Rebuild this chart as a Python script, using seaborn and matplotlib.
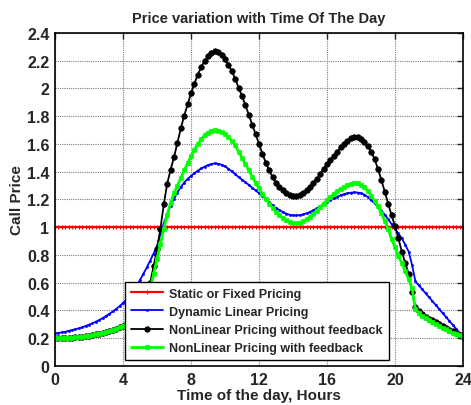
import numpy as np
import seaborn as sns
import matplotlib
matplotlib.use("Agg")
import matplotlib.pyplot as plt

# time axis: samples every 0.2 hours over the day
hours = np.linspace(0, 24, 121)

static_price = [1.0] * len(hours)

dynamic_linear = [
    0.235, 0.238, 0.242, 0.247, 0.253, 0.259, 0.265, 0.271, 0.279, 0.288,
    0.298, 0.308, 0.319, 0.331, 0.345, 0.360, 0.376, 0.393, 0.411, 0.431,
    0.454, 0.478, 0.505, 0.535, 0.575, 0.620, 0.665, 0.710, 0.760, 0.810,
    0.865, 0.950, 1.030, 1.095, 1.155, 1.205, 1.250, 1.290, 1.322, 1.348,
    1.370, 1.390, 1.408, 1.424, 1.437, 1.448, 1.456, 1.460, 1.458, 1.450,
    1.438, 1.422, 1.402, 1.382, 1.362, 1.343, 1.324, 1.305, 1.285, 1.265,
    1.245, 1.225, 1.203, 1.180, 1.158, 1.140, 1.124, 1.110, 1.098, 1.090,
    1.086, 1.085, 1.087, 1.092, 1.100, 1.110, 1.122, 1.136, 1.150, 1.165,
    1.180, 1.195, 1.208, 1.220, 1.230, 1.238, 1.245, 1.249, 1.251, 1.250,
    1.245, 1.235, 1.218, 1.195, 1.172, 1.147, 1.120, 1.090, 1.057, 1.022,
    0.990, 0.955, 0.920, 0.875, 0.825, 0.730, 0.610, 0.581, 0.553, 0.524,
    0.496, 0.467, 0.439, 0.410, 0.381, 0.353, 0.324, 0.296, 0.267, 0.239,
    0.210,
]

nonlinear_no_fb = [
    0.200, 0.200, 0.201, 0.202, 0.203, 0.205, 0.207, 0.209, 0.212, 0.215,
    0.219, 0.223, 0.228, 0.233, 0.239, 0.245, 0.252, 0.260, 0.268, 0.278,
    0.290, 0.302, 0.316, 0.333, 0.355, 0.385, 0.430, 0.500, 0.600, 0.720,
    0.840, 0.990, 1.165, 1.315, 1.415, 1.505, 1.608, 1.712, 1.805, 1.885,
    1.965, 2.035, 2.100, 2.155, 2.198, 2.234, 2.258, 2.270, 2.262, 2.240,
    2.210, 2.170, 2.125, 2.070, 2.005, 1.945, 1.880, 1.810, 1.740, 1.670,
    1.600, 1.530, 1.465, 1.410, 1.360, 1.320, 1.290, 1.265, 1.245, 1.232,
    1.225, 1.226, 1.232, 1.245, 1.265, 1.290, 1.320, 1.350, 1.385, 1.420,
    1.455, 1.485, 1.515, 1.545, 1.575, 1.600, 1.622, 1.640, 1.650, 1.648,
    1.635, 1.615, 1.585, 1.545, 1.490, 1.420, 1.340, 1.255, 1.170, 1.085,
    1.010, 0.920, 0.825, 0.745, 0.665, 0.535, 0.425, 0.395, 0.372, 0.355,
    0.342, 0.329, 0.315, 0.302, 0.289, 0.276, 0.262, 0.249, 0.236, 0.222,
    0.208,
]

nonlinear_fb = [
    0.200, 0.200, 0.201, 0.202, 0.203, 0.205, 0.207, 0.209, 0.212, 0.215,
    0.219, 0.223, 0.228, 0.233, 0.239, 0.245, 0.252, 0.260, 0.268, 0.278,
    0.290, 0.300, 0.312, 0.327, 0.345, 0.370, 0.410, 0.470, 0.555, 0.660,
    0.770, 0.880, 0.990, 1.090, 1.175, 1.245, 1.300, 1.355, 1.410, 1.460,
    1.510, 1.560, 1.600, 1.635, 1.662, 1.682, 1.695, 1.700, 1.697, 1.688,
    1.672, 1.650, 1.622, 1.590, 1.545, 1.500, 1.455, 1.410, 1.365, 1.320,
    1.280, 1.240, 1.205, 1.170, 1.140, 1.112, 1.087, 1.067, 1.050, 1.038,
    1.031, 1.030, 1.034, 1.042, 1.057, 1.075, 1.097, 1.120, 1.145, 1.170,
    1.195, 1.218, 1.240, 1.260, 1.277, 1.290, 1.302, 1.312, 1.318, 1.316,
    1.305, 1.287, 1.262, 1.228, 1.190, 1.150, 1.100, 1.045, 0.985, 0.915,
    0.855, 0.795, 0.740, 0.685, 0.625, 0.560, 0.410, 0.383, 0.360, 0.344,
    0.333, 0.318, 0.303, 0.290, 0.276, 0.264, 0.252, 0.240, 0.230, 0.220,
    0.210,
]

x_ticks = [0, 4, 8, 12, 16, 20, 24]
y_ticks = np.round(np.arange(0, 2.41, 0.2), 1)
y_tick_labels = ["0", "0.2", "0.4", "0.6", "0.8", "1", "1.2", "1.4",
                 "1.6", "1.8", "2", "2.2", "2.4"]

sns.set_style("white")
plt.rcParams["font.family"] = ["Liberation Sans", "DejaVu Sans"]
plt.rcParams["font.weight"] = "bold"

fig = plt.figure(figsize=(4.71, 4.06), dpi=100)
ax = fig.add_axes([0.1168, 0.0961, 0.8662, 0.8202])

# Plot the four pricing schemes (marker edges in the line colour, seaborn defaults to white)
sns.lineplot(x=hours, y=static_price, color="#ff0000", marker="+", markersize=3,
             markeredgewidth=0.8, markeredgecolor="#ff0000", lw=1.6,
             label="Static or Fixed Pricing", ax=ax)
sns.lineplot(x=hours, y=dynamic_linear, color="#0000ff", marker=".", markersize=3,
             markeredgewidth=0.5, markeredgecolor="#0000ff", lw=1.3,
             label="Dynamic Linear Pricing", ax=ax)
sns.lineplot(x=hours, y=nonlinear_no_fb, color="#000000", marker="o", markersize=4,
             markeredgewidth=0.5, markeredgecolor="#000000", lw=1.3,
             label="NonLinear Pricing without feedback", ax=ax)
sns.lineplot(x=hours, y=nonlinear_fb, color="#00ff00", marker="s", markersize=2.5,
             markeredgewidth=0.5, markeredgecolor="#00ff00", lw=2.0,
             label="NonLinear Pricing with feedback", ax=ax)

ax.set_xlim(0, 24)
ax.set_ylim(0, 2.4)
ax.set_xticks(x_ticks)
ax.set_yticks(y_ticks)
ax.set_yticklabels(y_tick_labels)

ax.grid(True, color="#7f7f7f", linestyle=(0, (1, 1)), linewidth=0.8)
ax.tick_params(direction="in", length=4, width=1, top=True, right=True,
               labelsize=11.5, pad=4)
for lab in ax.get_xticklabels() + ax.get_yticklabels():
    lab.set_fontweight("bold")
for sp in ax.spines.values():
    sp.set_color("black")
    sp.set_linewidth(1.2)

ax.set_title("Price variation with Time Of The Day", fontsize=10.5,
             fontweight="bold", pad=8)
ax.set_xlabel("Time of the day, Hours", fontsize=11, fontweight="bold", labelpad=1)
ax.set_ylabel("Call Price", fontsize=11, fontweight="bold", labelpad=2)

leg = ax.legend(loc="lower left", bbox_to_anchor=(0.1716, 0.018), borderaxespad=0,
                fancybox=False, framealpha=1, edgecolor="black",
                prop={"size": 9, "weight": "bold"}, handlelength=2.6,
                handletextpad=0.5, labelspacing=0.5, borderpad=0.45)
leg.get_frame().set_linewidth(1.0)

fig.savefig("out.png", dpi=100)
